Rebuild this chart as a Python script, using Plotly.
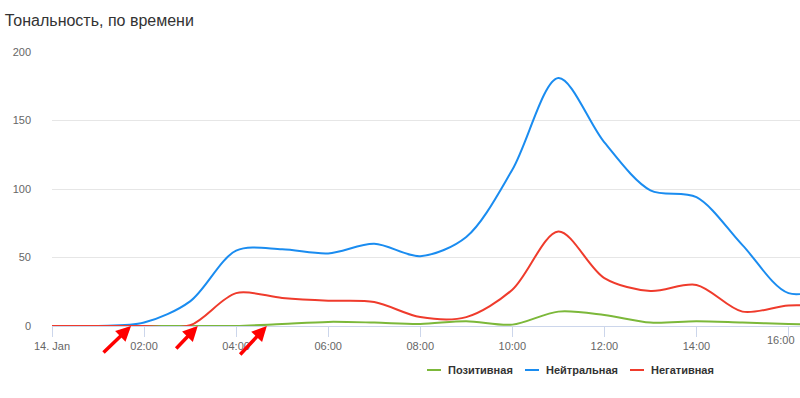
import plotly.graph_objects as go

times = ["2024-01-14 %02d:00" % h for h in range(0, 18)]
positive = [0, 0, 0, 0, 0, 1.5, 3, 2.5, 1.5, 3.5, 1, 10.5, 8, 2.5, 3.5, 2.5, 1.5, 1]
neutral = [0, 0, 2.5, 18, 55, 56, 53, 60, 51, 65, 114, 181, 134, 99, 94, 59, 24, 30]
negative = [0, 0, 0, 0.5, 24, 20.5, 18.5, 17.5, 6.5, 6.5, 26.5, 69, 35, 25.5, 30, 10.5, 15, 14]

series_names = ["Позитивная", "Нейтральная", "Негативная"]
series_colors = ["#7cb83a", "#1a8cf0", "#ef3b2c"]

tick_vals = ["2024-01-14 %02d:00" % h for h in range(0, 17, 2)]
tick_text = ["14. Jan", "02:00", "04:00", "06:00", "08:00", "10:00", "12:00", "14:00", "16:00"]

arrow_tips = ["2024-01-14 01:43", "2024-01-14 03:10", "2024-01-14 04:40"]
arrow_offsets = [(-29, 28), (-23, 24), (-28, 30)]

font_family = "Liberation Sans, Arial, sans-serif"

# legend layout (paper fractions of the plot area)
PL, PW, PB, PH = 52, 748, 326, 274
legend_symbol_px = [427, 525, 630]
legend_y_px = 370

fig = go.Figure()
for name, vals, col in zip(series_names, [positive, neutral, negative], series_colors):
    fig.add_trace(go.Scatter(
        x=times, y=vals, name=name, mode="lines",
        line=dict(color=col, width=2, shape="spline", smoothing=0.9),
        hoverinfo="skip", showlegend=False,
    ))

ly = (PB - legend_y_px) / PH
for name, col, sx in zip(series_names, series_colors, legend_symbol_px):
    x0 = (sx - PL) / PW
    x1 = (sx + 14 - PL) / PW
    fig.add_shape(type="line", xref="paper", yref="paper", x0=x0, x1=x1, y0=ly, y1=ly,
                  line=dict(color=col, width=2))
    fig.add_annotation(x=(sx + 19 - PL) / PW, y=ly, xref="paper", yref="paper",
                       text="<b>%s</b>" % name, showarrow=False,
                       xanchor="left", yanchor="middle",
                       font=dict(size=11, color="#333333", family=font_family))

for tip, (ax, ay) in zip(arrow_tips, arrow_offsets):
    fig.add_annotation(
        x=tip, y=0, xref="x", yref="y", ax=ax, ay=ay,
        showarrow=True, arrowhead=2, arrowsize=0.85, arrowwidth=3.5,
        arrowcolor="#ff0000", text="", standoff=0,
    )

# last tick label sits at the window edge; keep it fully visible
fig.add_annotation(
    x=tick_vals[-1], y=0, xref="x", yref="paper", yshift=-14, xshift=9,
    text=tick_text[-1], showarrow=False, xanchor="right", yanchor="middle",
    font=dict(size=11, color="#666666", family=font_family),
)

fig.update_layout(
    width=800, height=398,
    margin=dict(l=52, r=0, t=52, b=72),
    paper_bgcolor="white", plot_bgcolor="white",
    font=dict(family=font_family, color="#666666", size=11),
    title=dict(text="Тональность, по времени", x=0.006, xanchor="left",
               y=0.95, yanchor="middle",
               font=dict(size=16, color="#333333", family=font_family)),
    showlegend=False,
    xaxis=dict(
        type="date",
        range=["2024-01-14 00:00", "2024-01-14 16:15"],
        tickvals=tick_vals, ticktext=tick_text[:-1] + [""],
        showgrid=False, showline=True, linecolor="#ccd6eb", linewidth=1,
        ticks="outside", ticklen=10, tickcolor="#ccd6eb",
        tickfont=dict(size=11, color="#666666"),
        zeroline=False, fixedrange=True,
    ),
    yaxis=dict(
        range=[0, 200], tickvals=[0, 50, 100, 150, 200],
        showgrid=True, gridcolor="#e6e6e6", gridwidth=1,
        zeroline=False, showline=False, ticks="",
        ticklabelstandoff=20,
        tickfont=dict(size=11, color="#666666"),
    ),
)

fig.write_html("out.html")
